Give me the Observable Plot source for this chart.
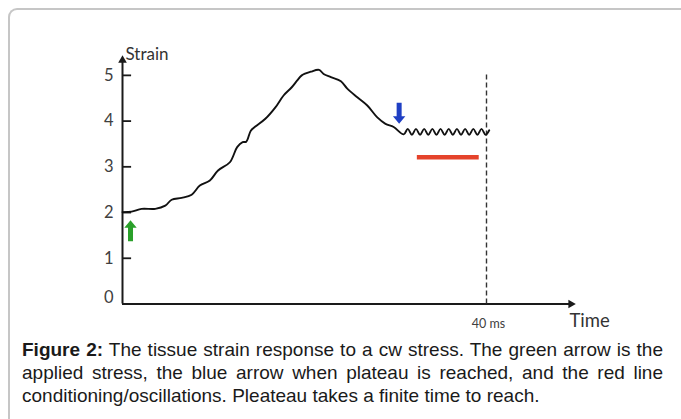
<!DOCTYPE html>
<html>
<head>
<meta charset="utf-8">
<script src="https://cdn.jsdelivr.net/npm/d3@7"></script>
<script src="https://cdn.jsdelivr.net/npm/@observablehq/plot@0.6"></script>
<style>
  html, body { margin: 0; padding: 0; background: #fff; width: 681px; height: 419px; overflow: hidden; }
  #frame { position: absolute; left: 8px; top: 8px; width: 700px; height: 440px; border-top: 2px solid #c6c6c6; border-left: 2px solid #c6c6c6; border-top-left-radius: 9px; box-sizing: border-box; }
  #chart { position: absolute; left: 0; top: 0; }
  #caption { position: absolute; left: 22px; top: 338px; width: 641px; font-family: "Liberation Sans", Arial, sans-serif; font-size: 19px; line-height: 23px; color: #1a1a1a; }
  #caption .j { display: block; text-align: justify; text-align-last: justify; white-space: nowrap; }
  #caption .l { display: block; text-align: left; white-space: nowrap; }
</style>
</head>
<body>
<div id="frame"></div>
<div id="chart"></div>
<div id="caption">
  <span class="j"><b>Figure 2:</b> The tissue strain response to a cw stress. The green arrow is the</span>
  <span class="j">applied stress, the blue arrow when plateau is reached, and the red line</span>
  <span class="l">conditioning/oscillations. Pleateau takes a finite time to reach.</span>
</div>
<script>
// ---- data ----
const timeMs = [0, 1.0, 2.1, 3.6, 4.7, 5.4, 6.5, 7.6, 8.5, 9.6, 10.5, 11.8, 12.6, 13.2, 13.6, 14.1, 14.6, 15.7, 16.8, 17.7, 18.6, 19.2, 19.7, 20.7, 21.6, 22.1, 22.9, 24.0, 24.7, 25.8, 26.9, 28.0, 28.9, 29.8, 30.9,
  31.35, 31.8, 32.25, 32.7, 33.15, 33.6, 34.05, 34.5, 34.95, 35.4, 35.85, 36.3, 36.75, 37.2, 37.65, 38.1, 38.55, 39.0, 39.45, 39.9, 40.3];
const strainValues = [2.01, 2.02, 2.08, 2.08, 2.15, 2.28, 2.32, 2.39, 2.59, 2.70, 2.92, 3.10, 3.43, 3.54, 3.55, 3.79, 3.88, 4.05, 4.30, 4.56, 4.74, 4.89, 5.00, 5.08, 5.12, 5.03, 4.96, 4.87, 4.71, 4.52, 4.34, 4.08, 3.94, 3.87, 3.71,
  3.83, 3.70, 3.83, 3.70, 3.83, 3.70, 3.83, 3.70, 3.83, 3.70, 3.83, 3.70, 3.83, 3.70, 3.83, 3.70, 3.83, 3.70, 3.83, 3.70, 3.80];
const yTicks = [1, 2, 3, 4, 5];
const yTickLabels = ["1", "2", "3", "4", "5"];
const zeroLabel = "0";
const endTimeMs = 40;
const endTimeLabel = "40 ms";
const xLabel = "Time";
const yLabel = "Strain";
const stressArrow = [{t: 0.88, s: 1.60}];      // green: applied stress
const plateauArrow = [{t: 30.4, s: 4.17}];     // blue: plateau reached
const conditioningLine = [{t1: 32.4, t2: 39.2, s: 3.21}]; // red line
const dashedTop = 5.04;
const xMax = 50, yMax = 5.5;
const xAxisEnd = 49.27, yAxisEnd = 5.33;

const data = timeMs.map((t, i) => ({t, s: strainValues[i]}));

// block arrow symbol (points up)
const blockArrow = {
  draw(ctx, size) {
    const k = Math.sqrt(size / Math.PI) / 10;
    ctx.moveTo(0, -10.5 * k);
    ctx.lineTo(6.2 * k, -3 * k);
    ctx.lineTo(2.5 * k, -3 * k);
    ctx.lineTo(2.5 * k, 10.5 * k);
    ctx.lineTo(-2.5 * k, 10.5 * k);
    ctx.lineTo(-2.5 * k, -3 * k);
    ctx.lineTo(-6.2 * k, -3 * k);
    ctx.closePath();
  }
};

const font = "Lato, 'Open Sans', sans-serif";

const chart = Plot.plot({
  width: 681,
  height: 335,
  marginLeft: 122,
  marginRight: 104,
  marginTop: 52,
  marginBottom: 31.5,
  x: {domain: [0, xMax], axis: null},
  y: {domain: [0, yMax], axis: null},
  style: {fontFamily: font, background: "transparent", overflow: "visible"},
  marks: [
    // axes
    Plot.ruleX([0], {y1: 0, y2: yAxisEnd, stroke: "#1a1a1a", strokeWidth: 2}),
    Plot.ruleY([0], {x1: 0, x2: xAxisEnd, stroke: "#1a1a1a", strokeWidth: 2}),
    Plot.dot([{t: 0, s: yAxisEnd}], {x: "t", y: "s", symbol: "triangle", r: 3.2, fill: "#1a1a1a", stroke: null}),
    Plot.dot([{t: xAxisEnd, s: 0}], {x: "t", y: "s", symbol: "triangle", r: 3.2, rotate: 90, fill: "#1a1a1a", stroke: null}),
    // ticks
    Plot.ruleY(yTicks, {y: d => d, x1: 0, x2: 1, stroke: "#1a1a1a", strokeWidth: 1.8}),
    Plot.text(yTicks, {y: d => d, x: 0, text: (d, i) => yTickLabels[i], dx: -9, textAnchor: "end", fontSize: 16.5, fill: "#404040"}),
    Plot.text([zeroLabel], {y: 0, x: 0, text: d => d, dx: -9, dy: -6, textAnchor: "end", fontSize: 16.5, fill: "#404040"}),
    Plot.text([yLabel], {x: 0, y: yMax, text: d => d, dx: 3, dy: 2.5, textAnchor: "start", fontSize: 17, fill: "#333"}),
    Plot.text([xLabel], {x: xMax, y: 0, text: d => d, dx: -8, dy: 17, textAnchor: "start", fontSize: 18.5, fill: "#333"}),
    Plot.text([endTimeLabel], {x: endTimeMs, y: 0, text: d => d, dx: 2, dy: 20, textAnchor: "middle", fontSize: 12.5, fill: "#404040"}),
    // dashed end line
    Plot.ruleX([endTimeMs], {y1: 0, y2: dashedTop, stroke: "#333", strokeWidth: 1.4, strokeDasharray: "5,3"}),
    // strain curve
    Plot.line(data, {x: "t", y: "s", curve: "catmull-rom", stroke: "#111", strokeWidth: 1.9}),
    // red conditioning line
    Plot.ruleY(conditioningLine, {y: "s", x1: "t1", x2: "t2", stroke: "#e5432b", strokeWidth: 4.5}),
    // arrows
    Plot.dot(stressArrow, {x: "t", y: "s", symbol: blockArrow, r: 10, fill: "#2aa02a", stroke: null}),
    Plot.dot(plateauArrow, {x: "t", y: "s", symbol: blockArrow, r: 10, rotate: 180, fill: "#1f3fc4", stroke: null})
  ]
});
document.getElementById("chart").appendChild(chart);
</script>
</body>
</html>
